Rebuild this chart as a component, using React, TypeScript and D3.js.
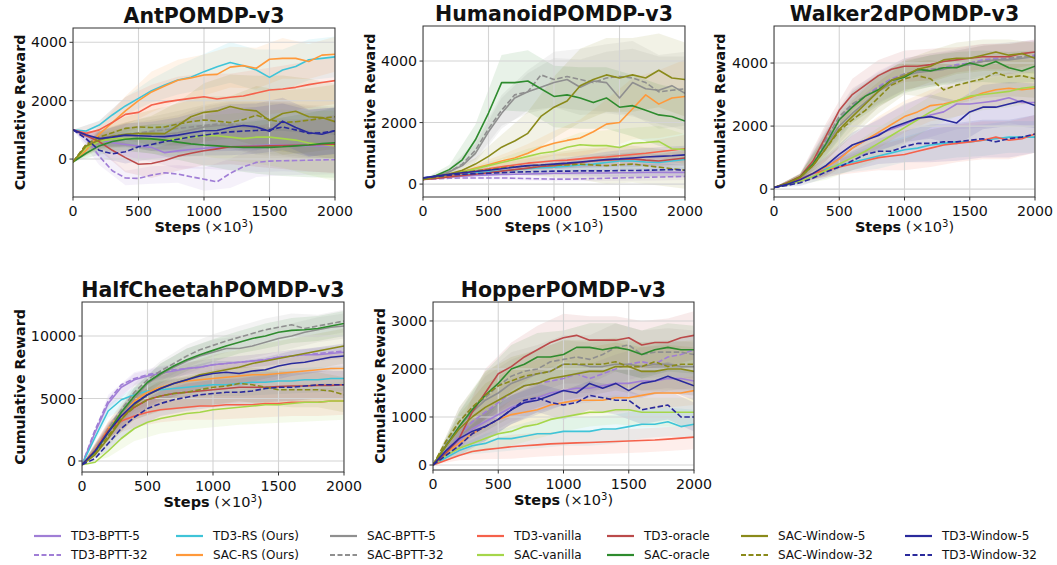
import React from "react";
import * as d3 from "d3";

const seriesNames = [
  "TD3-BPTT-5", "TD3-BPTT-32", "TD3-RS (Ours)", "SAC-RS (Ours)", "SAC-BPTT-5", "SAC-BPTT-32",
  "TD3-vanilla", "SAC-vanilla", "TD3-oracle", "SAC-oracle", "SAC-Window-5", "SAC-Window-32",
  "TD3-Window-5", "TD3-Window-32",
];
const seriesColors = [
  "#a07ed6", "#a07ed6", "#3fc4d8", "#ff993a", "#8f8f8f", "#8f8f8f",
  "#f5614b", "#a5d64a", "#bb4a4a", "#2e8b2e", "#8a8a1a", "#8a8a1a",
  "#2a2a9c", "#2a2a9c",
];
const seriesDashed = [false, true, false, false, false, true, false, false, false, false, false, true, false, true];

const steps = [0, 100, 200, 300, 400, 500, 600, 700, 800, 900, 1000, 1100, 1200, 1300, 1400, 1500, 1600, 1700, 1800, 1900, 2000];
const bandSteps = [0, 200, 400, 600, 800, 1000, 1200, 1400, 1600, 1800, 2000];
const xTicks = [0, 500, 1000, 1500, 2000];

const titles = ["AntPOMDP-v3", "HumanoidPOMDP-v3", "Walker2dPOMDP-v3", "HalfCheetahPOMDP-v3", "HopperPOMDP-v3"];
const yDomains = [[-1300, 4490], [-420, 5140], [-250, 5175], [-880, 12720], [-104, 3395]];
const yTicks = [[0, 2000, 4000], [0, 2000, 4000], [0, 2000, 4000], [0, 5000, 10000], [0, 1000, 2000, 3000]];

const antMean = [
  [1000, 820, 650, 560, 500, 450, 400, 220, 280, 330, 370, 400, 420, 440, 460, 480, 480, 470, 460, 450, 450],
  [1000, 700, 100, -400, -650, -663, -550, -470, -515, -605, -690, -780, -490, -263, -114, -70, -57, -50, -40, -30, -23],
  [1000, 960, 1165, 1510, 1820, 2080, 2340, 2540, 2710, 2800, 2995, 3165, 3310, 3200, 3050, 2800, 3050, 3170, 3400, 3450, 3500],
  [-100, 300, 850, 1250, 1650, 2000, 2300, 2500, 2700, 2780, 2880, 2900, 3150, 3200, 3110, 3420, 3450, 3450, 3340, 3560, 3590],
  [-100, 450, 650, 750, 800, 800, 850, 850, 900, 1000, 1100, 1150, 1150, 1100, 1050, 1000, 1000, 950, 900, 900, 850],
  [-100, 500, 700, 800, 850, 900, 950, 1000, 1050, 1100, 1150, 1200, 1200, 1150, 1100, 1050, 1050, 1000, 950, 950, 900],
  [1000, 880, 1000, 1250, 1530, 1600, 1850, 1950, 2020, 2080, 2137, 2057, 2120, 2160, 2260, 2366, 2400, 2457, 2550, 2620, 2686],
  [-100, 400, 600, 700, 700, 700, 680, 650, 700, 750, 800, 800, 750, 700, 750, 750, 700, 650, 550, 500, 450],
  [1000, 800, 600, 300, 50, -180, -150, -50, 100, 200, 285, 350, 420, 430, 440, 450, 460, 470, 480, 500, 510],
  [-100, 200, 450, 600, 680, 710, 690, 650, 580, 520, 480, 450, 420, 400, 400, 400, 420, 450, 480, 530, 560],
  [-100, 450, 650, 780, 850, 870, 880, 870, 1150, 1450, 1600, 1650, 1800, 1700, 1650, 1320, 1560, 1640, 1450, 1420, 1280],
  [-100, 500, 750, 900, 1050, 1100, 1080, 1100, 1200, 1280, 1340, 1300, 1250, 1350, 1500, 1350, 1250, 1280, 1330, 1400, 1450],
  [1000, 830, 700, 750, 820, 800, 780, 770, 820, 900, 970, 980, 1080, 1150, 1100, 950, 1300, 1080, 900, 850, 970],
  [1000, 700, 300, 180, 250, 420, 500, 600, 680, 760, 820, 880, 930, 960, 980, 1000, 1100, 1000, 880, 900, 970],
];
const antStd = [
  [0, 300, 400, 500, 600, 700, 800, 900, 900, 900, 900],
  [0, 300, 250, 300, 300, 400, 500, 500, 500, 500, 500],
  [0, 150, 300, 400, 500, 600, 700, 700, 700, 700, 700],
  [0, 300, 500, 700, 700, 700, 700, 700, 700, 600, 600],
  [0, 300, 400, 500, 600, 700, 800, 900, 900, 900, 900],
  [0, 300, 400, 500, 600, 700, 800, 900, 900, 900, 900],
  [0, 300, 600, 700, 800, 800, 800, 800, 800, 800, 800],
  [0, 300, 400, 500, 600, 700, 800, 900, 1000, 1100, 1200],
  [0, 300, 500, 500, 500, 500, 600, 700, 800, 900, 1000],
  [0, 300, 400, 500, 600, 700, 800, 900, 1000, 1100, 1200],
  [0, 300, 400, 600, 800, 1000, 1100, 1200, 1300, 1300, 1300],
  [0, 300, 400, 600, 700, 800, 900, 1000, 1100, 1100, 1100],
  [0, 250, 400, 500, 600, 700, 800, 800, 800, 800, 800],
  [0, 250, 400, 500, 600, 700, 800, 800, 800, 800, 800],
];

const humanoidMean = [
  [150, 200, 230, 260, 280, 300, 310, 320, 330, 340, 350, 350, 360, 360, 360, 370, 370, 380, 380, 380, 380],
  [150, 170, 190, 200, 200, 200, 200, 190, 180, 170, 160, 160, 170, 180, 190, 200, 210, 220, 230, 240, 250],
  [200, 250, 300, 330, 360, 400, 430, 460, 500, 530, 550, 580, 620, 650, 700, 750, 750, 720, 700, 750, 800],
  [150, 220, 300, 400, 520, 630, 750, 850, 1000, 1200, 1330, 1420, 1500, 1700, 1950, 2000, 2450, 2900, 2600, 2800, 2850],
  [150, 250, 400, 600, 1000, 1700, 2300, 2800, 3000, 3150, 3300, 3400, 3150, 3350, 3300, 2800, 3300, 3100, 3050, 3200, 2950],
  [150, 250, 400, 650, 1100, 1800, 2400, 2900, 3000, 3550, 3400, 3500, 3400, 3300, 3450, 3500, 3450, 3300, 3000, 3050, 3100],
  [150, 200, 270, 350, 420, 500, 560, 620, 680, 720, 760, 780, 820, 860, 880, 920, 960, 1000, 1050, 1100, 1150],
  [150, 220, 300, 400, 500, 600, 700, 800, 900, 1000, 1060, 1200, 1280, 1250, 1250, 1190, 1330, 1350, 1390, 1150, 1120],
  [150, 180, 230, 280, 320, 370, 420, 470, 520, 570, 600, 650, 700, 750, 780, 800, 820, 780, 750, 800, 850],
  [150, 280, 470, 790, 1440, 2310, 3300, 3300, 3350, 3100, 2850, 2900, 2800, 2650, 2800, 2500, 2550, 2400, 2250, 2200, 2050],
  [150, 250, 330, 450, 650, 900, 1200, 1400, 1650, 2200, 2500, 2700, 3200, 3400, 3550, 3450, 3550, 3450, 3700, 3450, 3400],
  [150, 220, 300, 380, 430, 470, 520, 560, 590, 620, 620, 620, 650, 620, 600, 630, 650, 600, 550, 500, 450],
  [200, 260, 320, 370, 410, 450, 500, 550, 600, 620, 650, 680, 720, 760, 800, 820, 850, 880, 900, 920, 950],
  [200, 250, 290, 320, 340, 350, 370, 390, 400, 410, 420, 420, 430, 430, 430, 440, 440, 450, 460, 470, 450],
];
const humanoidStd = [
  [0, 30, 50, 60, 80, 100, 120, 140, 150, 160, 170],
  [0, 30, 40, 50, 60, 70, 80, 90, 100, 110, 120],
  [0, 50, 80, 100, 120, 150, 200, 250, 300, 300, 300],
  [0, 60, 120, 200, 300, 400, 600, 800, 1000, 1100, 1200],
  [0, 100, 300, 500, 600, 800, 900, 1000, 1100, 1100, 1200],
  [0, 100, 300, 500, 700, 900, 1000, 1100, 1200, 1200, 1200],
  [0, 50, 80, 120, 150, 200, 250, 300, 350, 400, 450],
  [0, 50, 100, 150, 250, 300, 400, 500, 500, 500, 500],
  [0, 40, 60, 80, 100, 120, 150, 180, 200, 220, 250],
  [0, 150, 500, 900, 1000, 1000, 1000, 1000, 1000, 1000, 1000],
  [0, 100, 200, 400, 700, 1000, 1200, 1200, 1200, 1200, 1200],
  [0, 60, 120, 200, 300, 400, 500, 600, 600, 600, 600],
  [0, 40, 80, 100, 120, 150, 200, 250, 300, 300, 300],
  [0, 40, 60, 80, 100, 120, 150, 180, 200, 200, 200],
];

const walkerMean = [
  [50, 150, 300, 500, 700, 1000, 1300, 1550, 1750, 1900, 2050, 2250, 2350, 2450, 2700, 2700, 2750, 2800, 2900, 2750, 2750],
  [50, 180, 380, 800, 1500, 2200, 2650, 2950, 3250, 3500, 3650, 3750, 3800, 3850, 3950, 4000, 4100, 4150, 4150, 4200, 4250],
  [50, 180, 320, 500, 650, 750, 850, 950, 1050, 1150, 1250, 1300, 1400, 1450, 1500, 1500, 1550, 1600, 1650, 1650, 1650],
  [50, 150, 300, 500, 700, 950, 1300, 1550, 1800, 2050, 2300, 2450, 2650, 2700, 2800, 2900, 3050, 3150, 3200, 3150, 3200],
  [50, 180, 380, 800, 1400, 2000, 2400, 2750, 3100, 3350, 3600, 3700, 3750, 3800, 3900, 3950, 4050, 4100, 4100, 4150, 4200],
  [50, 180, 380, 850, 1600, 2300, 2700, 2950, 3200, 3450, 3650, 3750, 3800, 3850, 3900, 4000, 4050, 4100, 4150, 4200, 4200],
  [50, 180, 320, 500, 600, 700, 800, 900, 1000, 1050, 1100, 1200, 1300, 1400, 1450, 1500, 1550, 1650, 1550, 1600, 1750],
  [50, 130, 250, 400, 600, 800, 1000, 1200, 1450, 1700, 1950, 2200, 2450, 2650, 2800, 2950, 3000, 3050, 3100, 3200, 3250],
  [50, 200, 400, 900, 1700, 2500, 3000, 3300, 3600, 3800, 3900, 3900, 3950, 4050, 4100, 4150, 4200, 4200, 4200, 4300, 4350],
  [50, 180, 380, 800, 1450, 2200, 2600, 2950, 3150, 3450, 3550, 3800, 3750, 3850, 3850, 4000, 3900, 4050, 3850, 3750, 3900],
  [50, 180, 380, 750, 1300, 1900, 2300, 2700, 3100, 3450, 3600, 3800, 3900, 4100, 4150, 4150, 4250, 4350, 4250, 4300, 4150],
  [50, 180, 380, 750, 1300, 1850, 2200, 2500, 2900, 3300, 3500, 3600, 3500, 3150, 3300, 3400, 3500, 3700, 3550, 3600, 3500],
  [50, 150, 300, 500, 750, 1100, 1400, 1550, 1700, 1950, 2100, 2250, 2300, 2200, 2100, 2450, 2600, 2600, 2700, 2800, 2650],
  [50, 120, 200, 350, 550, 700, 900, 1100, 1200, 1200, 1350, 1450, 1450, 1500, 1500, 1550, 1600, 1500, 1600, 1650, 1750],
];
const walkerStd = [
  [0, 100, 300, 400, 500, 600, 700, 800, 800, 800, 800],
  [0, 100, 400, 500, 500, 500, 500, 500, 500, 500, 500],
  [0, 100, 200, 300, 400, 400, 500, 500, 500, 500, 500],
  [0, 100, 300, 400, 500, 500, 500, 500, 500, 500, 500],
  [0, 100, 400, 500, 500, 500, 500, 500, 500, 500, 500],
  [0, 100, 400, 500, 500, 500, 500, 500, 500, 500, 500],
  [0, 100, 200, 300, 400, 500, 600, 600, 600, 600, 600],
  [0, 100, 300, 400, 500, 500, 500, 500, 500, 500, 500],
  [0, 100, 400, 500, 500, 500, 500, 400, 400, 400, 400],
  [0, 100, 400, 500, 500, 500, 500, 500, 500, 500, 500],
  [0, 100, 400, 500, 500, 500, 500, 500, 500, 500, 500],
  [0, 100, 400, 500, 500, 500, 600, 600, 600, 600, 600],
  [0, 100, 300, 400, 500, 600, 700, 700, 700, 700, 700],
  [0, 100, 200, 300, 400, 500, 600, 600, 600, 600, 600],
];

const cheetahMean = [
  [-300, 2300, 4600, 5900, 6500, 6800, 7000, 7200, 7400, 7500, 7700, 7800, 7900, 8000, 8100, 8300, 8400, 8500, 8500, 8600, 8700],
  [-300, 2500, 4800, 6100, 6600, 6900, 7100, 7300, 7400, 7500, 7700, 7800, 7900, 8000, 8100, 8300, 8400, 8500, 8600, 8700, 8800],
  [-300, 1900, 4000, 4900, 5300, 5600, 5700, 5800, 5900, 6000, 6100, 6100, 6200, 6300, 6300, 6400, 6400, 6500, 6500, 6600, 6600],
  [-300, 900, 2600, 3900, 4800, 5500, 5900, 6200, 6400, 6500, 6600, 6700, 6800, 6900, 6900, 7000, 7100, 7200, 7300, 7400, 7400],
  [-300, 800, 2300, 3800, 5000, 6200, 6900, 7500, 8000, 8400, 8700, 9000, 9000, 9200, 9500, 9800, 10000, 10300, 10500, 10700, 10800],
  [-300, 900, 2600, 4100, 5500, 6500, 7200, 7800, 8400, 8900, 9250, 9600, 9900, 10200, 10500, 10700, 10900, 10600, 10800, 11000, 11200],
  [-300, 800, 2500, 3200, 3600, 3900, 4100, 4200, 4300, 4400, 4400, 4500, 4500, 4500, 4600, 4600, 4700, 4700, 4700, 4800, 4800],
  [-300, -100, 800, 1800, 2600, 3100, 3400, 3600, 3800, 3900, 4100, 4200, 4300, 4400, 4500, 4500, 4600, 4700, 4700, 4800, 4800],
  [-300, 800, 2400, 3600, 4300, 4900, 5200, 5400, 5500, 5600, 5700, 5800, 5900, 5900, 5900, 5950, 6000, 6000, 6050, 6050, 6100],
  [-300, 700, 2300, 3900, 5200, 6300, 7000, 7600, 8100, 8500, 8850, 9200, 9500, 9800, 10000, 10300, 10450, 10500, 10600, 10800, 11000],
  [-300, 500, 1800, 3300, 4500, 5300, 5800, 6200, 6500, 6900, 7100, 7300, 7500, 7800, 8000, 8200, 8400, 8600, 8800, 9000, 9200],
  [-300, 600, 2000, 3400, 4300, 4900, 5200, 5400, 5500, 5700, 5900, 6000, 6200, 6100, 5900, 5700, 5700, 5700, 5700, 5600, 5300],
  [-300, 800, 2300, 3600, 4600, 5300, 5800, 6200, 6500, 6800, 7000, 7100, 7000, 7200, 7300, 7600, 7800, 7900, 8100, 8300, 8400],
  [-300, 200, 1400, 2600, 3500, 4200, 4600, 4900, 5100, 5300, 5400, 5500, 5500, 5600, 5800, 5900, 5900, 6000, 6100, 6100, 6100],
];
const cheetahStd = [
  [0, 500, 500, 500, 500, 500, 500, 500, 500, 500, 500],
  [0, 500, 500, 500, 500, 500, 500, 500, 500, 500, 500],
  [0, 500, 600, 700, 800, 900, 1000, 1000, 1000, 1000, 1000],
  [0, 600, 800, 1000, 1000, 1100, 1100, 1200, 1200, 1200, 1200],
  [0, 500, 800, 900, 1000, 1000, 1000, 1000, 1000, 1000, 1000],
  [0, 500, 700, 800, 900, 900, 900, 900, 900, 900, 900],
  [0, 600, 900, 1000, 1000, 1100, 1100, 1100, 1100, 1100, 1100],
  [0, 500, 1000, 1200, 1300, 1400, 1400, 1500, 1500, 1500, 1500],
  [0, 600, 1000, 1100, 1200, 1200, 1200, 1200, 1200, 1200, 1200],
  [0, 500, 700, 800, 900, 900, 900, 1000, 1000, 1000, 1000],
  [0, 600, 1000, 1200, 1300, 1400, 1400, 1400, 1400, 1400, 1400],
  [0, 600, 1000, 1200, 1300, 1400, 1400, 1400, 1400, 1400, 1400],
  [0, 600, 900, 1000, 1000, 1000, 1000, 1000, 1000, 1000, 1000],
  [0, 600, 900, 1000, 1100, 1100, 1100, 1100, 1100, 1100, 1100],
];

const hopperMean = [
  [0, 250, 500, 750, 900, 1050, 1200, 1300, 1400, 1500, 1550, 1600, 1600, 1650, 1700, 1700, 1750, 1750, 1800, 1800, 1750],
  [0, 300, 600, 900, 1100, 1300, 1500, 1650, 1700, 1750, 1800, 1900, 1800, 1900, 2000, 2100, 2150, 2100, 2250, 2300, 2400],
  [0, 150, 300, 400, 450, 550, 550, 600, 650, 650, 700, 700, 700, 750, 750, 800, 850, 850, 900, 800, 850],
  [0, 250, 450, 650, 800, 950, 1050, 1100, 1150, 1250, 1300, 1350, 1350, 1350, 1400, 1400, 1450, 1500, 1500, 1500, 1550],
  [0, 400, 800, 1100, 1350, 1500, 1700, 1800, 1900, 1950, 2100, 2100, 2050, 2050, 2100, 2100, 2050, 2100, 2100, 2050, 2050],
  [0, 450, 900, 1200, 1400, 1650, 1850, 1950, 2000, 2150, 2200, 2250, 2200, 2300, 2450, 2500, 2300, 2350, 2350, 2350, 2300],
  [0, 100, 200, 280, 320, 350, 380, 400, 420, 440, 450, 460, 470, 480, 490, 500, 510, 520, 540, 560, 580],
  [0, 200, 350, 450, 550, 650, 700, 800, 850, 950, 1000, 1050, 1100, 1100, 1150, 1150, 1100, 1100, 1100, 1100, 1100],
  [0, 250, 550, 1100, 1500, 1900, 2050, 2250, 2400, 2550, 2650, 2700, 2600, 2600, 2600, 2650, 2500, 2550, 2550, 2650, 2700],
  [0, 400, 800, 1150, 1450, 1700, 2000, 2100, 2250, 2250, 2300, 2450, 2450, 2400, 2450, 2400, 2300, 2400, 2450, 2400, 2400],
  [0, 400, 750, 1000, 1200, 1350, 1500, 1650, 1700, 1800, 1850, 1900, 1950, 1950, 2050, 2050, 1950, 1950, 2000, 2000, 1950],
  [0, 500, 900, 1200, 1450, 1650, 1750, 1850, 1900, 1950, 2100, 2100, 2100, 2100, 2150, 2050, 2050, 2150, 2050, 2100, 2100],
  [0, 300, 550, 700, 800, 950, 1150, 1300, 1350, 1450, 1550, 1500, 1700, 1600, 1700, 1550, 1700, 1750, 1850, 1750, 1650],
  [0, 200, 400, 650, 800, 950, 1150, 1350, 1400, 1300, 1250, 1300, 1450, 1400, 1350, 1350, 1150, 1200, 1250, 1000, 1000],
];
const hopperStd = [
  [0, 200, 300, 300, 300, 300, 300, 300, 300, 300, 300],
  [0, 200, 300, 300, 300, 300, 300, 300, 300, 300, 300],
  [0, 100, 200, 250, 300, 300, 300, 300, 300, 300, 300],
  [0, 150, 250, 300, 300, 300, 300, 300, 300, 300, 300],
  [0, 300, 500, 500, 500, 500, 500, 500, 500, 500, 500],
  [0, 300, 500, 500, 500, 500, 500, 500, 500, 500, 500],
  [0, 100, 200, 250, 250, 250, 250, 250, 250, 250, 250],
  [0, 150, 250, 300, 300, 300, 300, 300, 300, 300, 300],
  [0, 250, 500, 500, 500, 500, 500, 500, 500, 500, 500],
  [0, 300, 500, 500, 500, 500, 500, 500, 500, 500, 500],
  [0, 300, 500, 500, 500, 500, 500, 500, 500, 500, 500],
  [0, 300, 500, 500, 500, 500, 500, 500, 500, 500, 500],
  [0, 200, 300, 300, 300, 300, 300, 300, 300, 300, 300],
  [0, 200, 300, 300, 300, 300, 300, 300, 300, 300, 300],
];

const panelMeans = [antMean, humanoidMean, walkerMean, cheetahMean, hopperMean];
const panelStds = [antStd, humanoidStd, walkerStd, cheetahStd, hopperStd];

// layout (pixels)
const layout = [
  { left: 73, top: 28, width: 262, height: 169, ylabelX: 20 },
  { left: 423, top: 26, width: 262, height: 171, ylabelX: 370 },
  { left: 774, top: 26, width: 261, height: 171, ylabelX: 720 },
  { left: 82, top: 302, width: 262, height: 170, ylabelX: 20 },
  { left: 433, top: 302, width: 261, height: 168, ylabelX: 380 },
];
const legendTextX = [71, 213, 367, 514, 644, 778, 942];
const legendRowY = [536, 555];

const FONT = "DejaVu Sans, Verdana, sans-serif";

function Panel({ idx }: { idx: number }) {
  const L = layout[idx];
  const x = d3.scaleLinear().domain([0, 2000]).range([L.left, L.left + L.width]);
  const y = d3.scaleLinear().domain(yDomains[idx]).range([L.top + L.height, L.top]);
  const means = panelMeans[idx];
  const stds = panelStds[idx];
  const line = d3.line<number>().x((_, i) => x(steps[i])).y((v) => y(v));
  const clipId = `clip-${idx}`;
  const bands = means.map((m, s) => {
    const area = d3
      .area<number>()
      .x((_, i) => x(bandSteps[i]))
      .y0((sd, i) => y(m[i * 2] - sd))
      .y1((sd, i) => y(m[i * 2] + sd));
    return area(stds[s]) || "";
  });
  const cx = L.left + L.width / 2;
  const bottom = L.top + L.height;
  return (
    <g>
      <defs>
        <clipPath id={clipId}>
          <rect x={L.left} y={L.top} width={L.width} height={L.height} />
        </clipPath>
      </defs>
      <g clipPath={`url(#${clipId})`}>
        {bands.map((d, s) => (
          <path key={"b" + s} d={d} fill={seriesColors[s]} fillOpacity={0.11} stroke="none" />
        ))}
        {xTicks.map((t) => (
          <line key={"gx" + t} x1={x(t)} x2={x(t)} y1={L.top} y2={bottom} stroke="#d4d4d4" strokeWidth={1.1} />
        ))}
        {yTicks[idx].map((t) => (
          <line key={"gy" + t} x1={L.left} x2={L.left + L.width} y1={y(t)} y2={y(t)} stroke="#d4d4d4" strokeWidth={1.1} />
        ))}
        {means.map((m, s) => (
          <path
            key={"l" + s}
            d={line(m) || ""}
            fill="none"
            stroke={seriesColors[s]}
            strokeWidth={1.6}
            strokeDasharray={seriesDashed[s] ? "5.5,2.4" : undefined}
            strokeLinejoin="round"
          />
        ))}
      </g>
      <rect x={L.left} y={L.top} width={L.width} height={L.height} fill="none" stroke="#333" strokeWidth={1} />
      {xTicks.map((t) => (
        <g key={"tx" + t}>
          <line x1={x(t)} x2={x(t)} y1={bottom} y2={bottom + 3.5} stroke="#333" />
          <text x={x(t)} y={bottom + 18.5} textAnchor="middle" fontSize={14.2} fontFamily={FONT} fill="#111">
            {t}
          </text>
        </g>
      ))}
      {yTicks[idx].map((t) => (
        <g key={"ty" + t}>
          <line x1={L.left - 3.5} x2={L.left} y1={y(t)} y2={y(t)} stroke="#333" />
          <text x={L.left - 6} y={y(t) + 5} textAnchor="end" fontSize={14.2} fontFamily={FONT} fill="#111">
            {t}
          </text>
        </g>
      ))}
      <text x={cx} y={L.top - 5} textAnchor="middle" fontSize={20.5} fontWeight="bold" fontFamily={FONT} fill="#111">
        {titles[idx]}
      </text>
      <text
        transform={`translate(${L.ylabelX},${L.top + L.height / 2}) rotate(-90)`}
        textAnchor="middle"
        dy="0.35em"
        fontSize={14.2}
        fontWeight="bold"
        fontFamily={FONT}
        fill="#111"
      >
        Cumulative Reward
      </text>
      <text x={cx} y={bottom + 35} textAnchor="middle" fontSize={14.5} fontFamily={FONT} fill="#111">
        <tspan fontWeight="bold">Steps</tspan>
        <tspan> (×10</tspan>
        <tspan dy={-5.5} fontSize={10}>3</tspan>
        <tspan dy={5.5}>)</tspan>
      </text>
    </g>
  );
}

export default function App() {
  return (
    <svg width={1057} height={565} style={{ position: "absolute", left: 0, top: 0, background: "#fff" }}>
      <rect x={0} y={0} width={1057} height={565} fill="#fff" />
      {layout.map((_, i) => (
        <Panel key={i} idx={i} />
      ))}
      {seriesNames.map((name, s) => {
        const col = Math.floor(s / 2);
        const row = s % 2;
        const tx = legendTextX[col];
        const ly = legendRowY[row];
        return (
          <g key={"lg" + s}>
            <line
              x1={tx - 37}
              x2={tx - 10}
              y1={ly}
              y2={ly}
              stroke={seriesColors[s]}
              strokeWidth={2.2}
              strokeDasharray={seriesDashed[s] ? "5,2.5" : undefined}
            />
            <text x={tx} y={ly + 4.3} fontSize={12} fontFamily={FONT} fill="#111">
              {name}
            </text>
          </g>
        );
      })}
    </svg>
  );
}
